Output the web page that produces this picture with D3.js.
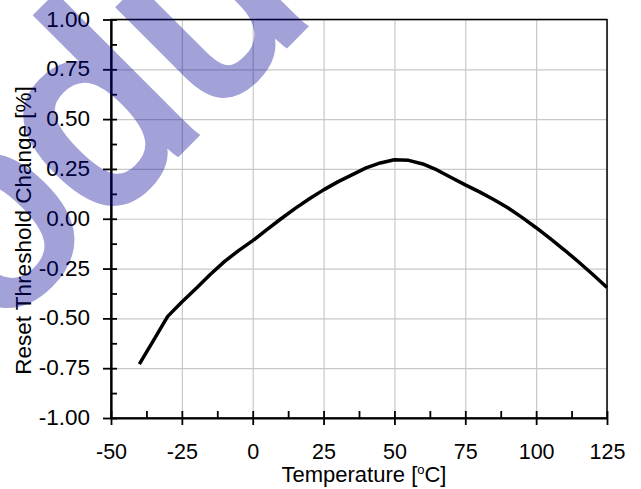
<!DOCTYPE html>
<html lang="en">
<head>
<meta charset="UTF-8">
<title>Reset Threshold Change vs Temperature</title>
<script src="https://d3js.org/d3.v7.min.js"></script>
<style>
  body { margin: 0; background: #fff; }
  svg text { font-family: "Liberation Sans", Arial, sans-serif; fill: #000; }
  .grid line { stroke: #c8c8c8; stroke-width: 1.2px; }
  .grid .domain { display: none; }
  .inner .domain { display: none; }
  .axis line, .inner line { stroke: #000; stroke-width: 1.8px; }
  .axis .domain { stroke: #000; stroke-width: 2.2px; }
</style>
</head>
<body>
<svg id="chart" width="641" height="489"></svg>
<script>
  // temperature in degC and reset threshold change in %
  const temps = [-40, -35, -30, -25, -20, -15, -10, -5, 0, 5, 10, 15, 20, 25, 30, 35, 40, 45,
                 50, 55, 60, 65, 70, 75, 80, 85, 90, 95, 100, 105, 110, 115, 120, 125];
  const thresholdChange = [-0.73, -0.61, -0.49, -0.418, -0.35, -0.28, -0.215, -0.16, -0.11, -0.055,
                           0.0, 0.052, 0.10, 0.145, 0.185, 0.22, 0.255, 0.28, 0.296, 0.293, 0.275,
                           0.245, 0.207, 0.17, 0.135, 0.097, 0.055, 0.007, -0.045, -0.1, -0.157,
                           -0.217, -0.28, -0.345];

  const xTicks = [-50, -25, 0, 25, 50, 75, 100, 125];
  const xMinorTicks = [-37.5, -12.5, 12.5, 37.5, 62.5, 87.5, 112.5];
  const yTicks = [-1, -0.75, -0.5, -0.25, 0, 0.25, 0.5, 0.75, 1];
  const yMinorTicks = [-0.875, -0.625, -0.375, -0.125, 0.125, 0.375, 0.625, 0.875];
  const yTickLabels = ["-1.00", "-0.75", "-0.50", "-0.25", "0.00", "0.25", "0.50", "0.75", "1.00"];

  const svg = d3.select("#chart");
  const x = d3.scaleLinear().domain([-50, 125]).range([111, 607]);
  const y = d3.scaleLinear().domain([-1, 1]).range([418, 19.5]);
  const plotW = x(125) - x(-50);
  const plotH = y(-1) - y(1);

  // gridlines
  svg.append("g").attr("class", "grid")
    .attr("transform", `translate(0,${y(-1)})`)
    .call(d3.axisBottom(x).tickValues(xTicks).tickSize(-plotH).tickFormat(""));
  svg.append("g").attr("class", "grid")
    .attr("transform", `translate(${x(-50)},0)`)
    .call(d3.axisLeft(y).tickValues(yTicks).tickSize(-plotW).tickFormat(""));

  // frame (top and right)
  svg.append("rect")
    .attr("x", x(-50)).attr("y", y(1))
    .attr("width", plotW).attr("height", plotH)
    .attr("fill", "none").attr("stroke", "#000").attr("stroke-width", 1.5);

  // inner ticks
  svg.append("g").attr("class", "inner")
    .attr("transform", `translate(0,${y(-1)})`)
    .call(d3.axisTop(x).tickValues(xTicks.concat(xMinorTicks)).tickSize(7).tickFormat(""));
  svg.append("g").attr("class", "inner")
    .attr("transform", `translate(${x(-50)},0)`)
    .call(d3.axisRight(y).tickValues(yTicks.concat(yMinorTicks)).tickSize(6).tickFormat(""));

  // x axis
  const xAxis = svg.append("g").attr("class", "axis")
    .attr("transform", `translate(0,${y(-1)})`)
    .call(d3.axisBottom(x).tickValues(xTicks).tickSize(7).tickSizeOuter(0)
      .tickPadding(19).tickFormat(d => String(d)));
  xAxis.selectAll("text").attr("font-size", 21.5);

  // y axis
  const yAxis = svg.append("g").attr("class", "axis")
    .attr("transform", `translate(${x(-50)},0)`)
    .call(d3.axisLeft(y).tickValues(yTicks).tickSize(8).tickSizeOuter(0)
      .tickPadding(13).tickFormat((d, i) => yTickLabels[i]));
  yAxis.selectAll("text").attr("font-size", 22.5).attr("dy", "0.29em");
  svg.selectAll(".axis").attr("font-family", null);

  // curve
  const line = d3.line()
    .x((d, i) => x(temps[i]))
    .y(d => y(d));
  svg.append("path")
    .datum(thresholdChange)
    .attr("d", line)
    .attr("fill", "none")
    .attr("stroke", "#000")
    .attr("stroke-width", 3.5)
    .attr("stroke-linejoin", "round");

  // axis titles
  const xTitle = svg.append("text")
    .attr("x", 364).attr("y", 482)
    .attr("text-anchor", "middle")
    .attr("font-size", 22)
    .text("Temperature [");
  xTitle.append("tspan").attr("font-size", 13).attr("dy", -8).text("o");
  xTitle.append("tspan").attr("dy", 8).text("C]");

  svg.append("text")
    .attr("transform", "translate(30.5,230.5) rotate(-90)")
    .attr("text-anchor", "middle")
    .attr("font-size", 22.5)
    .text("Reset Threshold Change [%]");

  // watermark
  const mark = svg.append("text")
    .attr("transform", "translate(-5,334) rotate(-45)")
    .attr("font-size", 268)
    .style("fill", "#000098")
    .attr("stroke", "#000098")
    .attr("stroke-width", 9)
    .attr("opacity", 0.36)
    .text("od");
  mark.append("tspan").attr("dx", 5).text("u");
</script>
</body>
</html>
